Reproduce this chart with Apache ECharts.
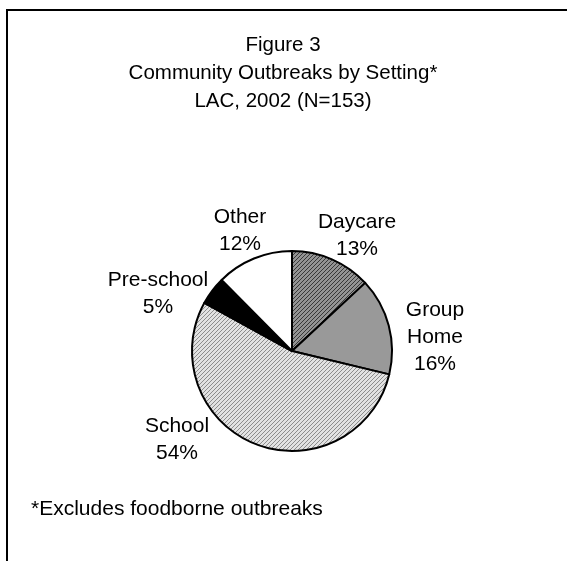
<!DOCTYPE html>
<html><head><meta charset="utf-8">
<script src="https://cdn.jsdelivr.net/npm/echarts@6/dist/echarts.min.js"></script>
<style>
html,body{margin:0;padding:0;background:#fff;}
#frame{position:absolute;left:6px;top:9px;width:561px;height:552px;border-left:2px solid #000;border-top:2px solid #000;}
#chart{position:absolute;left:0;top:0;width:567px;height:561px;}
</style></head>
<body>
<div id="frame"></div>
<div id="chart"></div>
<script>
// Data
const categories = ['Daycare', 'Group\nHome', 'School', 'Pre-school', 'Other'];
const counts = [20, 24, 83, 7, 19];
const percentLabels = ['13%', '16%', '54%', '5%', '12%'];
const titleLines = ['Figure 3', 'Community Outbreaks by Setting*', 'LAC, 2002 (N=153)'];
const footnote = '*Excludes foodborne outbreaks';

// Layout (label centers)
const labelPos = [[357, 236], [435, 337], [177, 440], [158, 294], [240, 231]];

function hatch(bg, fg) {
  const c = document.createElement('canvas');
  c.width = 4; c.height = 4;
  const ctx = c.getContext('2d');
  ctx.fillStyle = bg; ctx.fillRect(0, 0, 4, 4);
  ctx.fillStyle = fg;
  for (let i = 0; i < 4; i++) { ctx.fillRect(3 - i, i, 1, 1); }
  return { image: c, repeat: 'repeat' };
}
const fills = [hatch('#949494', '#383838'), '#999999', hatch('#e2e2e2', '#8c8c8c'), '#000000', '#ffffff'];

const FONT = 'Liberation Sans, Arial';
const chart = echarts.init(document.getElementById('chart'), null, { renderer: 'canvas' });
chart.setOption({
  animation: false,
  backgroundColor: 'transparent',
  title: [{
    text: titleLines.join('\n'),
    left: 278, top: 26, textAlign: 'center',
    textStyle: { fontFamily: FONT, fontSize: 20.5, fontWeight: 'normal', color: '#000', lineHeight: 28 }
  }, {
    text: footnote,
    left: 26, top: 491,
    textStyle: { fontFamily: FONT, fontSize: 21, fontWeight: 'normal', color: '#000', lineHeight: 26 }
  }],
  series: [{
    type: 'pie',
    center: [292, 351],
    radius: [0, 100],
    startAngle: 90,
    clockwise: true,
    data: categories.map((c, i) => ({
      name: c, value: counts[i],
      itemStyle: { color: fills[i] }
    })),
    itemStyle: { borderColor: '#000', borderWidth: 2 },
    label: {
      show: true, position: 'outside',
      formatter: p => p.name + '\n' + percentLabels[p.dataIndex],
      fontFamily: FONT, fontSize: 21, color: '#000', lineHeight: 27, align: 'center'
    },
    labelLine: { show: false },
    labelLayout: p => ({ x: labelPos[p.dataIndex][0], y: labelPos[p.dataIndex][1], align: 'center', verticalAlign: 'middle' }),
    emphasis: { disabled: true }
  }]
});
</script>
</body></html>
